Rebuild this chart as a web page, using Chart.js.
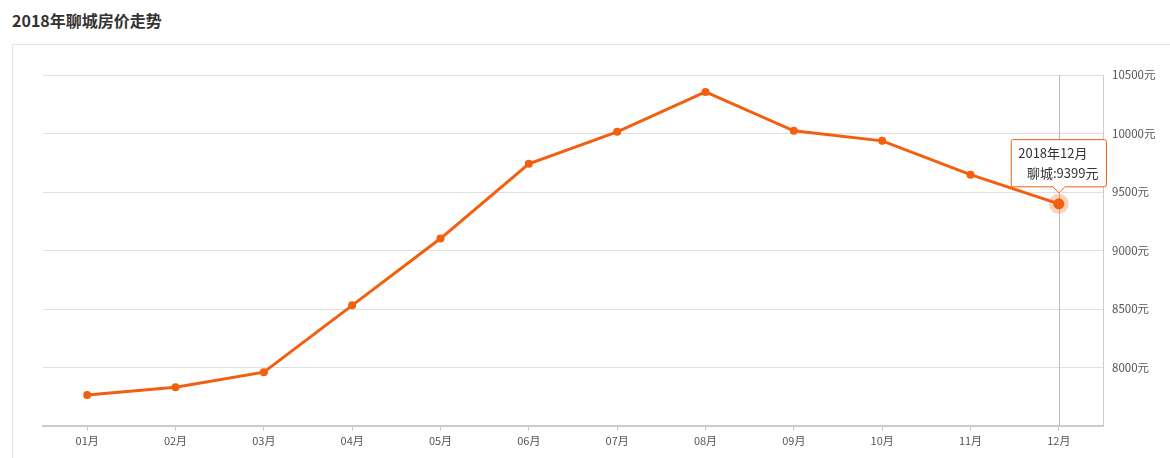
<!DOCTYPE html>
<html lang="zh">
<head>
    <meta charset="UTF-8">
    <title>2018年聊城房价走势</title>
    <style>
        body { margin: 0; background: #fff; font-family: "Noto Sans CJK SC", "Noto Sans", sans-serif; }
        #wrap { position: relative; width: 1170px; height: 458px; overflow: hidden; }
        h1 { position: absolute; left: 12px; top: 8px; margin: 0; font-size: 16px; font-weight: bold; color: #333; line-height: 24px; }
        .panel { position: absolute; left: 12px; top: 44px; width: 1200px; height: 500px; border: 1px solid #e6e6e6; }
        canvas { position: absolute; left: 0; top: 0; }
    </style>
</head>
<body>
<div id="wrap">
    <h1>2018年聊城房价走势</h1>
    <div class="panel"></div>
    <canvas id="chart" width="1170" height="458"></canvas>
</div>
<script src="https://cdn.jsdelivr.net/npm/chart.js"></script>
<script>
    const months = ['01月', '02月', '03月', '04月', '05月', '06月', '07月', '08月', '09月', '10月', '11月', '12月'];
    const prices = [7765, 7832, 7960, 8531, 9102, 9741, 10014, 10355, 10023, 9937, 9648, 9399];
    const yTicks = [8000, 8500, 9000, 9500, 10000, 10500];
    const lineColor = '#f25f0f';
    const hi = 11; // mois survolé

    // croix verticale + halo autour du point actif
    const hoverMark = {
        id: 'hoverMark',
        beforeDatasetsDraw(chart) {
            const ctx = chart.ctx, area = chart.chartArea;
            const pt = chart.getDatasetMeta(0).data[hi];
            ctx.save();
            ctx.strokeStyle = '#bbb';
            ctx.lineWidth = 1;
            ctx.beginPath();
            ctx.moveTo(Math.round(pt.x) + 0.5, area.top);
            ctx.lineTo(Math.round(pt.x) + 0.5, area.bottom);
            ctx.stroke();
            ctx.restore();
        },
        afterDatasetsDraw(chart) {
            const ctx = chart.ctx;
            const pt = chart.getDatasetMeta(0).data[hi];
            ctx.save();
            ctx.fillStyle = 'rgba(242,95,15,0.28)';
            ctx.beginPath();
            ctx.arc(pt.x, pt.y, 10, 0, Math.PI * 2);
            ctx.fill();
            ctx.fillStyle = lineColor;
            ctx.beginPath();
            ctx.arc(pt.x, pt.y, 5.5, 0, Math.PI * 2);
            ctx.fill();
            ctx.restore();
        }
    };

    const chart = new Chart(document.getElementById('chart'), {
        type: 'line',
        data: {
            labels: months,
            datasets: [{
                label: '聊城',
                data: prices,
                borderColor: lineColor,
                backgroundColor: lineColor,
                borderWidth: 3,
                pointRadius: 4,
                pointHoverRadius: 4,
                pointBorderWidth: 0,
                tension: 0
            }]
        },
        options: {
            responsive: false,
            animation: false,
            devicePixelRatio: 1,
            layout: { padding: { left: 43, top: 75, right: 0, bottom: 0 } },
            plugins: {
                legend: { display: false },
                tooltip: {
                    enabled: true,
                    backgroundColor: '#fff',
                    borderColor: lineColor,
                    borderWidth: 1,
                    cornerRadius: 2,
                    titleColor: '#333',
                    bodyColor: '#333',
                    titleFont: { family: 'Noto Sans CJK SC', size: 13, weight: 'normal' },
                    bodyFont: { family: 'Noto Sans CJK SC', size: 13 },
                    titleAlign: 'left',
                    bodyAlign: 'right',
                    titleMarginBottom: 4,
                    padding: { left: 7, right: 8, top: 6, bottom: 6 },
                    displayColors: false,
                    caretSize: 6,
                    caretPadding: 11,
                    xAlign: 'center',
                    yAlign: 'bottom',
                    callbacks: {
                        title: items => '2018年' + months[items[0].dataIndex],
                        label: item => '   聊城:' + item.parsed.y + '元'
                    }
                }
            },
            scales: {
                x: {
                    offset: true,
                    grid: { offset: false, drawOnChartArea: false, drawTicks: true, tickLength: 5, color: '#ccc' },
                    border: { display: true, color: '#ccc', width: 2 },
                    ticks: { color: '#555', padding: 3, font: { family: 'Noto Sans CJK SC', size: 11 }, maxRotation: 0 },
                    afterFit: s => { s.height = 32; }
                },
                y: {
                    position: 'right',
                    min: 7500,
                    max: 10500,
                    afterBuildTicks: s => { s.ticks = [7500, ...yTicks].map(v => ({ value: v })); },
                    grid: { color: '#e0e0e0', drawTicks: false },
                    border: { display: true, color: '#ccc', width: 1 },
                    ticks: {
                        color: '#555',
                        padding: 9,
                        font: { family: 'Noto Sans CJK SC', size: 11.5 },
                        callback: v => v === 7500 ? '' : v + '元'
                    },
                    afterFit: s => { s.width = 67; }
                }
            }
        },
        plugins: [hoverMark]
    });

    const p = chart.getDatasetMeta(0).data[hi];
    chart.tooltip.setActiveElements([{ datasetIndex: 0, index: hi }], { x: p.x, y: p.y });
    chart.update('none');
</script>
</body>
</html>
